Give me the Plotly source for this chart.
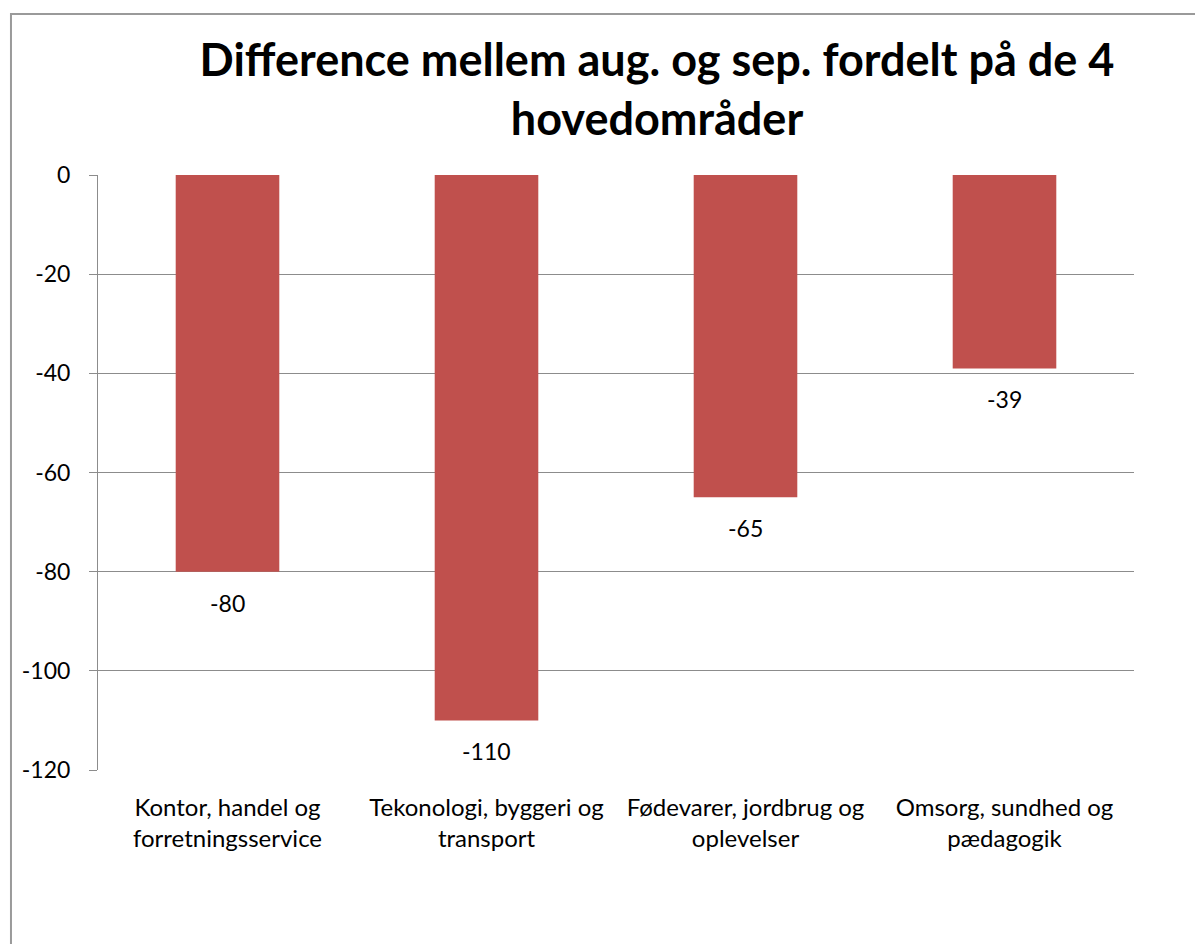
import plotly.graph_objects as go

categories = ["Kontor, handel og<br>forretningsservice",
              "Tekonologi, byggeri og<br>transport",
              "Fødevarer, jordbrug og<br>oplevelser",
              "Omsorg, sundhed og<br>pædagogik"]
values = [-80, -110, -65, -39]
y_ticks = [0, -20, -40, -60, -80, -100, -120]
y_tick_text = ["0", "-20", "-40", "-60", "-80", "-100", "-120"]

FONT = "Lato"
fig = go.Figure()
fig.add_trace(go.Bar(
    x=categories, y=values, width=0.4,
    marker=dict(color="#C0504D", line=dict(width=0)),
    showlegend=False, hoverinfo="x+y",
))
for c, v in zip(categories, values):
    fig.add_annotation(x=c, y=v, text=str(v), showarrow=False, yanchor="middle",
                       yshift=-31, font=dict(family=FONT, size=23, color="#000000"))

# page body has an 8px margin, so the figure is drawn at (8, 8)
fig.update_layout(
    width=1195, height=936,
    margin=dict(l=90, r=69, t=167, b=174),
    paper_bgcolor="white", plot_bgcolor="white",
    title=dict(text="<b>Difference mellem aug. og sep. fordelt på de 4<br>hovedområder</b>",
               x=(657 - 8) / 1195, xanchor="center", y=1 - (68 / 936), yanchor="top",
               font=dict(family=FONT, size=45, color="#000000")),
    font=dict(family=FONT, size=23, color="#000000"),
    bargap=0.6,
)
fig.update_xaxes(showgrid=False, ticks="", showline=False, tickfont=dict(size=24),
                 ticklabelstandoff=21, fixedrange=True)
fig.update_yaxes(range=[-120, 0], tickvals=y_ticks, ticktext=y_tick_text,
                 showgrid=True, gridcolor="#8c8c8c",
                 gridwidth=1, zeroline=False, showline=True, linecolor="#8c8c8c",
                 linewidth=1, ticks="outside", ticklen=8, tickcolor="#8c8c8c",
                 tickfont=dict(size=23), ticklabelstandoff=14)

# outer chart border (left and top edges visible; right/bottom extend past canvas)
fig.add_shape(type="rect", xref="paper", yref="paper",
              x0=-0.084, x1=1.2, y0=-0.5, y1=1.2706,
              line=dict(color="#9a9a9a", width=2), layer="below")

fig.write_html("out.html")
